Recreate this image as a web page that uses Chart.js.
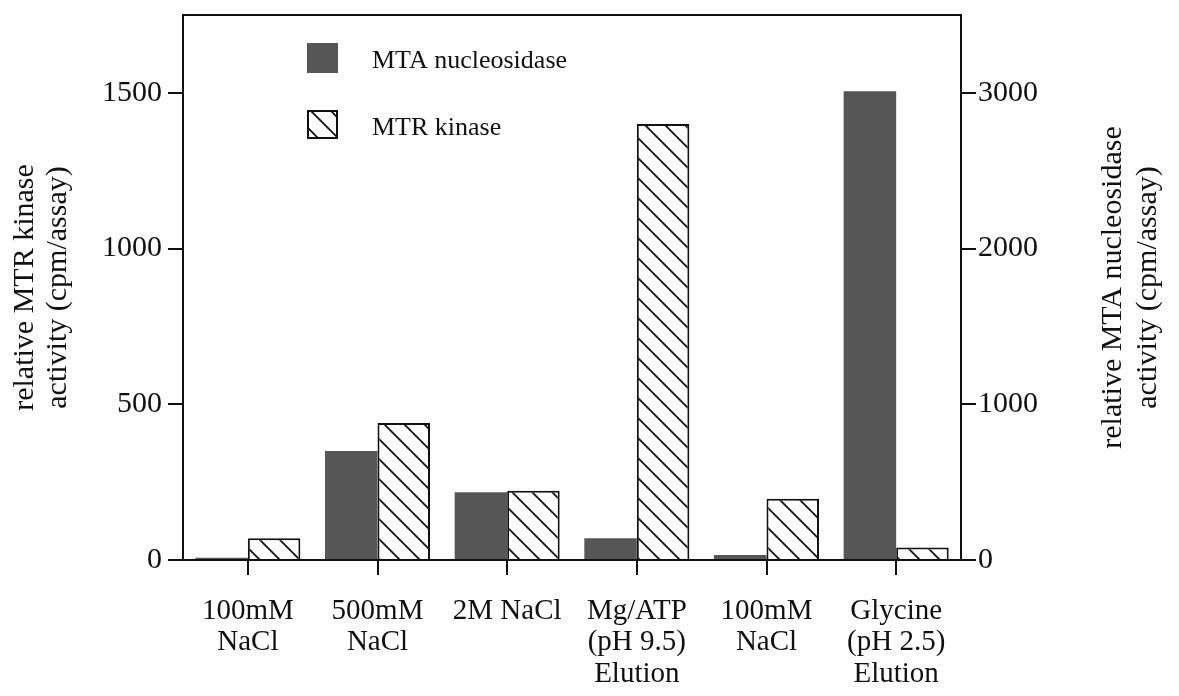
<!DOCTYPE html>
<html>
<head>
<meta charset="utf-8">
<script src="https://cdn.jsdelivr.net/npm/chart.js@4.4.1/dist/chart.umd.min.js"></script>
<style>
  html, body { margin: 0; padding: 0; background: #fff; }
  #wrap { width: 1179px; height: 696px; }
</style>
</head>
<body>
<div id="wrap"><canvas id="c"></canvas></div>
<script>
// Fractions eluted from the column
const categories = [
  ["100mM", "NaCl"],
  ["500mM", "NaCl"],
  "2M NaCl",
  ["Mg/ATP", "(pH 9.5)", "Elution"],
  ["100mM", "NaCl"],
  ["Glycine", "(pH 2.5)", "Elution"]
];
// MTA nucleosidase activity (right axis, cpm/assay)
const nucleosidase = [15, 700, 435, 140, 32, 3010];
// MTR kinase activity (left axis, cpm/assay)
const kinase = [70, 440, 222, 1400, 197, 40];

const kinaseTicks = [0, 500, 1000, 1500];
const nucleosidaseTicks = [0, 1000, 2000, 3000];
const seriesNames = ["MTA nucleosidase", "MTR kinase"];
const leftTitle = ["relative MTR kinase", "activity (cpm/assay)"];
const rightTitle = ["relative MTA nucleosidase", "activity (cpm/assay)"];

const SERIF = "'Liberation Serif', 'Times New Roman', Times, serif";
const INK = '#111';
const DARK = '#565656';

// Back-slash hatch used for the kinase bars
function makeHatch() {
  const s = 20;
  const t = document.createElement('canvas');
  t.width = s; t.height = s;
  const g = t.getContext('2d');
  g.fillStyle = '#fff';
  g.fillRect(0, 0, s, s);
  g.strokeStyle = INK;
  g.lineWidth = 1.8;
  g.beginPath();
  g.moveTo(-2, -2); g.lineTo(s + 2, s + 2);
  g.moveTo(-2, s - 2); g.lineTo(2, s + 2);
  g.moveTo(s - 2, -2); g.lineTo(s + 2, 2);
  g.stroke();
  return g.createPattern(t, 'repeat');
}

Chart.defaults.font.family = SERIF;
Chart.defaults.color = INK;

const ctx = document.getElementById('c').getContext('2d');
const hatch = makeHatch();
const plain = v => String(v);

// Legend boxes inside the plot frame and the right-hand axis title
const decorations = {
  id: 'decorations',
  afterDraw(chart) {
    const g = chart.ctx;
    const a = chart.chartArea;
    g.save();
    // legend
    const bx = a.left + 124;
    g.fillStyle = DARK;
    g.fillRect(bx, a.top + 28, 31, 30);
    g.fillStyle = hatch;
    g.fillRect(bx, a.top + 95, 31, 29);
    g.strokeStyle = INK;
    g.lineWidth = 2;
    g.strokeRect(bx + 1, a.top + 96, 29, 27);
    g.fillStyle = INK;
    g.font = '26px ' + SERIF;
    g.textAlign = 'left';
    g.textBaseline = 'middle';
    g.fillText(seriesNames[0], a.left + 189, a.top + 46);
    g.fillText(seriesNames[1], a.left + 189, a.top + 113);
    // right axis title, read bottom to top
    const y2 = chart.scales.y2;
    const cy = (a.top + a.bottom) / 2;
    g.font = '30px ' + SERIF;
    g.textAlign = 'center';
    rightTitle.forEach((line, i) => {
      g.save();
      g.translate(y2.left + 152 + i * 35, cy);
      g.rotate(-Math.PI / 2);
      g.fillText(line, 0, 0);
      g.restore();
    });
    g.restore();
  }
};

new Chart(ctx, {
  type: 'bar',
  data: {
    labels: categories,
    datasets: [
      {
        label: seriesNames[0],
        data: nucleosidase,
        yAxisID: 'y2',
        backgroundColor: DARK,
        borderWidth: 0
      },
      {
        label: seriesNames[1],
        data: kinase,
        yAxisID: 'y',
        backgroundColor: hatch,
        borderColor: INK,
        borderWidth: 2
      }
    ]
  },
  options: {
    responsive: true,
    maintainAspectRatio: false,
    devicePixelRatio: 1,
    animation: false,
    layout: { padding: { top: 15, left: 0, right: 0, bottom: 0 } },
    datasets: { bar: { categoryPercentage: 0.81, barPercentage: 1.0 } },
    plugins: { legend: { display: false }, tooltip: { enabled: false } },
    scales: {
      x: {
        position: 'bottom',
        grid: { display: true, drawOnChartArea: false, drawTicks: true, offset: false, tickLength: 15, color: INK, lineWidth: 2 },
        border: { display: true, color: INK, width: 2 },
        ticks: { font: { size: 29, lineHeight: 1.1 }, color: INK, padding: 20, maxRotation: 0, autoSkip: false },
        afterFit: s => { s.height = 136; s.paddingLeft = 0; s.paddingRight = 0; }
      },
      xTop: {
        position: 'top',
        type: 'category',
        grid: { display: false },
        border: { display: true, color: INK, width: 2 },
        ticks: { display: false },
        afterFit: s => { s.height = 0; s.paddingLeft = 0; s.paddingRight = 0; }
      },
      y: {
        position: 'left',
        min: 0,
        max: 1750,
        afterBuildTicks: s => { s.ticks = kinaseTicks.map(v => ({ value: v })); },
        grid: { display: true, drawOnChartArea: false, drawTicks: true, tickLength: 15, color: INK, lineWidth: 2 },
        border: { display: true, color: INK, width: 2 },
        ticks: { font: { size: 30 }, color: INK, padding: 6, callback: plain },
        title: { display: true, text: leftTitle, font: { size: 30, lineHeight: 1.1 }, color: INK, padding: { top: 9, bottom: 0 } },
        afterFit: s => { s.width = 183; s.paddingTop = 0; s.paddingBottom = 0; }
      },
      y2: {
        position: 'right',
        min: 0,
        max: 3500,
        afterBuildTicks: s => { s.ticks = nucleosidaseTicks.map(v => ({ value: v })); },
        grid: { display: true, drawOnChartArea: false, drawTicks: true, tickLength: 15, color: INK, lineWidth: 2 },
        border: { display: true, color: INK, width: 2 },
        ticks: { font: { size: 30 }, color: INK, padding: 2, callback: plain },
        afterFit: s => { s.width = 218; s.paddingTop = 0; s.paddingBottom = 0; }
      }
    }
  },
  plugins: [decorations]
});
</script>
</body>
</html>
